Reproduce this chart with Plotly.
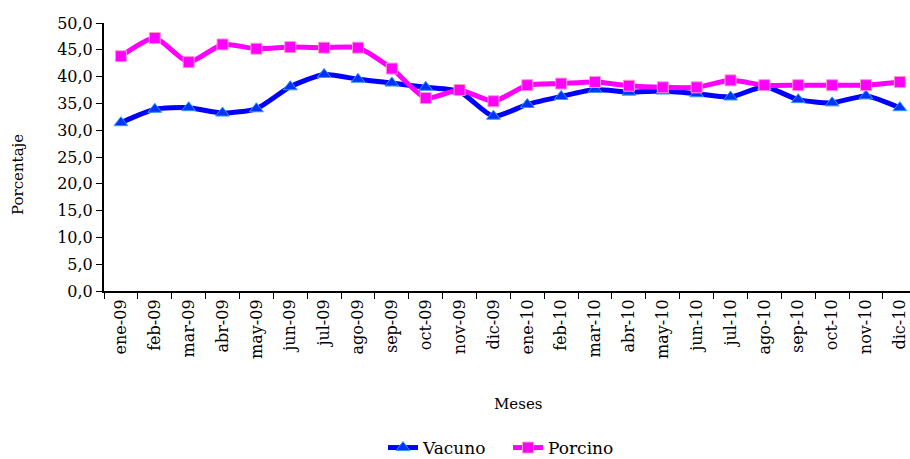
import plotly.graph_objects as go

meses = ["ene-09", "feb-09", "mar-09", "abr-09", "may-09", "jun-09", "jul-09", "ago-09",
         "sep-09", "oct-09", "nov-09", "dic-09", "ene-10", "feb-10", "mar-10", "abr-10",
         "may-10", "jun-10", "jul-10", "ago-10", "sep-10", "oct-10", "nov-10", "dic-10"]
vacuno = [31.4, 33.9, 34.2, 33.2, 34.0, 38.1, 40.4, 39.5, 38.8, 38.0, 37.2, 32.6,
          34.8, 36.3, 37.6, 37.1, 37.3, 36.8, 36.2, 38.1, 35.7, 35.1, 36.4, 34.2]
porcino = [43.8, 47.2, 42.7, 46.0, 45.2, 45.5, 45.4, 45.4, 41.5, 36.0, 37.5, 35.4,
           38.4, 38.7, 39.0, 38.3, 38.0, 38.0, 39.3, 38.4, 38.4, 38.4, 38.4, 39.0]
y_ticks = [0, 5, 10, 15, 20, 25, 30, 35, 40, 45, 50]

FONT = "DejaVu Serif"

fig = go.Figure()
fig.add_trace(go.Scatter(
    x=meses, y=vacuno, name="Vacuno", mode="lines+markers",
    line=dict(color="#0000FF", width=5, shape="spline", smoothing=0.6),
    marker=dict(symbol="triangle-up", size=12, color="#0033FF",
                line=dict(color="#3399FF", width=1)),
))
fig.add_trace(go.Scatter(
    x=meses, y=porcino, name="Porcino", mode="lines+markers",
    line=dict(color="#FF00FF", width=5, shape="spline", smoothing=0.6),
    marker=dict(symbol="square", size=11, color="#FF00FF",
                line=dict(color="#FF99CC", width=1)),
))

PL, PR = 104, 910
PW = PR - PL
PT, PB = 23, 291
PH = PB - PT

fig.update_layout(
    width=910, height=459,
    margin=dict(l=PL, r=910 - PR, t=PT, b=459 - PB, autoexpand=False),
    paper_bgcolor="white", plot_bgcolor="white",
    separators=",.",
    font=dict(family=FONT, size=16, color="#000000"),
    showlegend=True,
    legend=dict(orientation="h", x=(508 - PL) / PW, xanchor="center",
                y=(PB - 448) / PH, yanchor="middle",
                font=dict(family=FONT, size=17), tracegroupgap=0,
                entrywidth=80, entrywidthmode="pixels",
                bgcolor="rgba(0,0,0,0)"),
    xaxis=dict(
        type="category", range=[-0.5, 23.3], automargin=False,
        tickangle=-90, tickson="boundaries", ticks="outside", ticklen=6,
        tickcolor="black", tickwidth=1,
        showline=True, linecolor="black", linewidth=2,
        showgrid=False, zeroline=False,
        tickfont=dict(family=FONT, size=16),
    ),
    yaxis=dict(
        range=[0, 50], tickvals=y_ticks, tickformat=".1f", automargin=False,
        ticks="outside", ticklen=6, tickcolor="black", tickwidth=1,
        showline=True, linecolor="black", linewidth=2,
        showgrid=False, zeroline=False,
        tickfont=dict(family=FONT, size=16),
    ),
    annotations=[
        dict(text="Porcentaje", x=(18 - PL) / PW, xref="paper", xanchor="center",
             y=(PB - 175) / PH, yref="paper", yanchor="middle", textangle=-90,
             showarrow=False, font=dict(family=FONT, size=15)),
        dict(text="Meses", x=(518 - PL) / PW, xref="paper", xanchor="center",
             y=(PB - 404) / PH, yref="paper", yanchor="middle",
             showarrow=False, font=dict(family=FONT, size=15)),
    ],
)

fig.write_html(
    "out.html",
    config={"displayModeBar": False},
    post_script="document.body.style.margin='0';document.body.style.overflow='hidden';",
)
